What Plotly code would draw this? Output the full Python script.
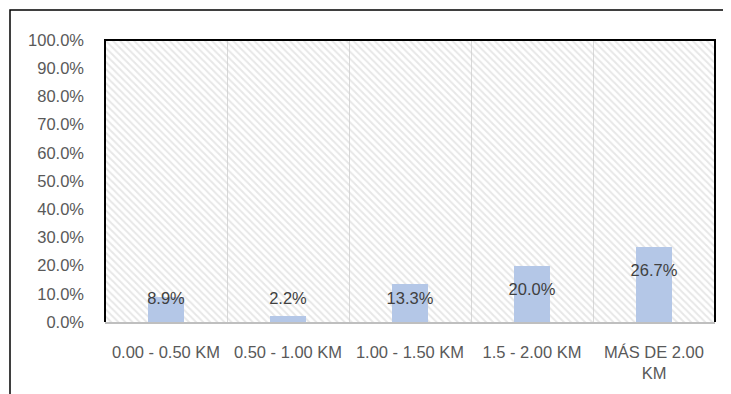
import plotly.graph_objects as go

categories = ["0.00 - 0.50 KM", "0.50 - 1.00 KM", "1.00 - 1.50 KM", "1.5 - 2.00 KM", "MÁS DE 2.00<br>KM"]
values = [0.089, 0.022, 0.133, 0.200, 0.267]
labels = ["8.9%", "2.2%", "13.3%", "20.0%", "26.7%"]
y_ticks = [i / 10 for i in range(11)]

FONT = "Liberation Sans, Arial, sans-serif"

fig = go.Figure()

# hatched plot-area background
fig.add_trace(go.Bar(
    x=categories, y=[1.0] * len(categories), width=1.0,
    marker=dict(color="rgba(0,0,0,0)", line=dict(width=0),
                pattern=dict(shape="\\", fgcolor="#d0d0d0", bgcolor="rgba(0,0,0,0)",
                             size=5, solidity=0.4, fillmode="overlay")),
    hoverinfo="skip", showlegend=False,
))

fig.add_trace(go.Bar(
    x=categories, y=values, width=0.29,
    marker=dict(color="#b4c7e7", line=dict(width=0)),
    showlegend=False,
))

# data labels
label_y = [max(v - 0.09, 0.08) for v in values]
fig.add_trace(go.Scatter(
    x=categories, y=label_y, mode="text", text=labels,
    textfont=dict(family=FONT, size=16.5, color="#404040"),
    textposition="middle center", showlegend=False, hoverinfo="skip",
))

fig.update_layout(
    width=731, height=394,
    margin=dict(l=97, r=24, t=32, b=80),
    paper_bgcolor="white", plot_bgcolor="white",
    barmode="overlay", bargap=0,
    font=dict(family=FONT, size=16.5, color="#595959"),
    xaxis=dict(
        type="category", tickson="boundaries", showgrid=True, gridcolor="#d9d9d9", gridwidth=1,
        showline=True, linecolor="#bfbfbf", linewidth=1.5, ticks="",
        tickfont=dict(size=16.5, color="#595959"), ticklabelstandoff=14,
        range=[-0.5, 4.5],
    ),
    yaxis=dict(
        range=[0, 1.0], tickvals=y_ticks, tickformat=".1%", showgrid=False,
        zeroline=False, showline=False, ticks="",
        tickfont=dict(size=16.5, color="#595959"), ticklabelstandoff=20,
    ),
    shapes=[
        dict(type="path", xref="paper", yref="paper",
             path="M 0 0 L 0 1 L 1 1 L 1 0", line=dict(color="black", width=2), layer="above"),
        dict(type="rect", xref="paper", yref="paper",
             x0=(10 - 105) / 610, x1=(760 - 105) / 610, y0=(322 - 420) / 282, y1=(322 - 10) / 282,
             line=dict(color="black", width=1.5), layer="above"),
    ],
)

fig.write_html("out.html")
